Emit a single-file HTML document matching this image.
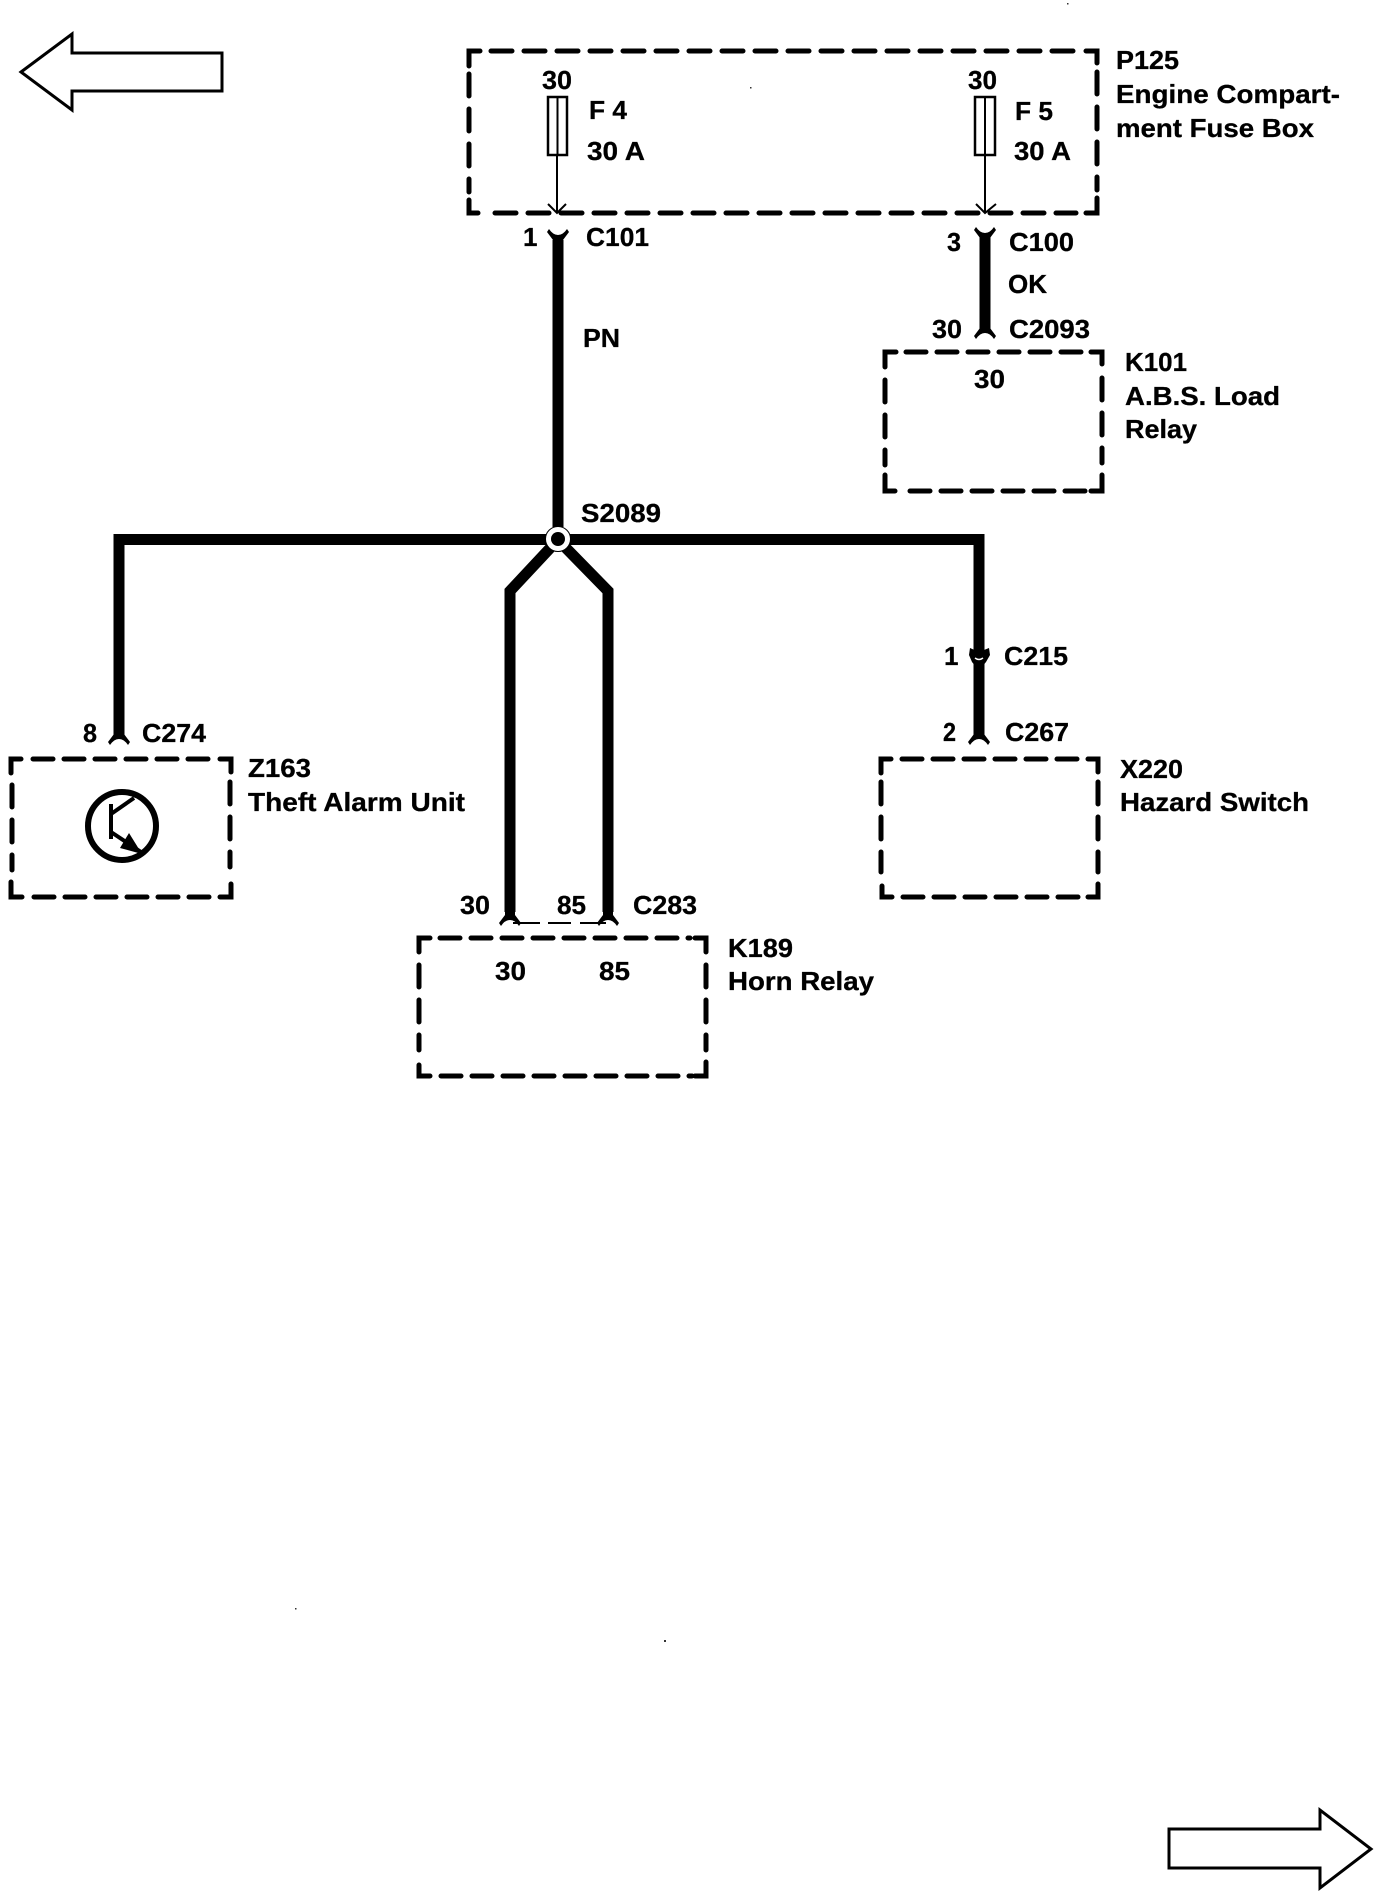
<!DOCTYPE html>
<html><head><meta charset="utf-8"><style>
html,body{margin:0;padding:0;background:#fff;width:1392px;height:1896px;overflow:hidden}
svg{display:block}
text{font-family:"Liberation Sans",Arial,sans-serif;font-weight:700;font-size:26px;fill:#000;stroke:#000;stroke-width:.3}
.d{fill:none;stroke:#000;stroke-width:5;stroke-linecap:round;stroke-linejoin:miter}
.w{fill:none;stroke:#000;stroke-width:11;stroke-linejoin:miter}
.t{fill:none;stroke:#000;stroke-width:2}
</style></head><body>
<svg width="1392" height="1896" viewBox="0 0 1392 1896" xmlns="http://www.w3.org/2000/svg">
<defs>
<path id="fk" d="M-5-14H5V-9L11-1 9 2Q5-4 0-4Q-5-4-9 2L-11-1-5-9Z" fill="#000"/>
</defs>
<rect width="1392" height="1896" fill="#fff"/>

<!-- page arrows -->
<path d="M21 72L72 34V53H222V91H72V110Z" fill="#fff" stroke="#000" stroke-width="3" stroke-linejoin="miter"/>
<path d="M1169 1829H1320V1810L1371 1849 1320 1888V1868H1169Z" fill="#fff" stroke="#000" stroke-width="3" stroke-linejoin="miter"/>

<!-- fuse box -->
<path class="d" d="M469 66V51H480M1086 51H1097V63M469 200V213H478M1086 213H1097V198"/>
<path class="d" style="stroke-dasharray:21 12" d="M491 51H1076"/>
<path class="d" style="stroke-dasharray:21 12" d="M495 213H1076"/>
<path class="d" style="stroke-dasharray:22 13" d="M469 74V192"/>
<path class="d" style="stroke-dasharray:22 13" d="M1097 72V190"/>

<!-- fuses -->
<rect x="548" y="97" width="19" height="58" fill="#fff" stroke="#000" stroke-width="2.500"/>
<path class="t" d="M557.500 97V155" stroke-width="1"/>
<rect x="975" y="97" width="20" height="58" fill="#fff" stroke="#000" stroke-width="2.500"/>
<path class="t" d="M985 97V155" stroke-width="1"/>
<path class="t" d="M557 155V213M548 204L557 213 566 204"/>
<path class="t" d="M985 155V213M976 204L985 213 996 204"/>

<!-- K101 -->
<path class="d" d="M885 367V352H896M1091 352H1102V364M885 475V491H895M1091 491H1102V475"/>
<path class="d" style="stroke-dasharray:20 11" d="M906 352H1085"/>
<path class="d" style="stroke-dasharray:20 11" d="M910 491H1085"/>
<path class="d" style="stroke-dasharray:22 13" d="M885 380V465"/>
<path class="d" style="stroke-dasharray:22 13" d="M1102 378V463"/>

<!-- Z163 -->
<path class="d" d="M11 773V759H21M220 759H231V772M11 882V897H22M220 897H231V884"/>
<path class="d" style="stroke-dasharray:20 11" d="M33 759H211"/>
<path class="d" style="stroke-dasharray:20 11" d="M34 897H211"/>
<path class="d" style="stroke-dasharray:22 13" d="M12 785V870"/>
<path class="d" style="stroke-dasharray:22 13" d="M230 782V867"/>

<!-- X220 -->
<path class="d" d="M881 773V759H891M1088 759H1098V772M882 886V897H892M1088 897H1098V884"/>
<path class="d" style="stroke-dasharray:20 11" d="M902 759H1080"/>
<path class="d" style="stroke-dasharray:20 11" d="M903 897H1080"/>
<path class="d" style="stroke-dasharray:22 13" d="M881 782V872"/>
<path class="d" style="stroke-dasharray:22 13" d="M1098 782V872"/>

<!-- K189 -->
<path class="d" d="M419 952V938H430M695 938H706V952M419 1065V1076H430M695 1076H706V1062"/>
<path class="d" style="stroke-dasharray:20 11" d="M440 938H690"/>
<path class="d" style="stroke-dasharray:20 11" d="M441 1076H692"/>
<path class="d" style="stroke-dasharray:22 13" d="M419 965V1050"/>
<path class="d" style="stroke-dasharray:22 13" d="M706 965V1050"/>

<!-- transistor -->
<ellipse cx="122" cy="826" rx="34" ry="34" fill="none" stroke="#000" stroke-width="6"/>
<path fill="none" stroke="#000" stroke-width="4" d="M111 804V839M111 814L134 798M111 832L141 852"/>
<path fill="#000" d="M142 854L120 848 129 833Z"/>

<!-- wires -->
<path class="w" d="M558 240V527"/>
<path class="w" d="M985 236V330"/>
<path class="w" d="M119 737V539.500H979V735"/>
<path class="w" d="M553 545L510 591V912"/>
<path class="w" d="M563 545L608 591V912"/>

<!-- junction -->
<circle cx="558" cy="539" r="12.500" fill="#fff" stroke="#000" stroke-width="1"/>
<circle cx="558" cy="539" r="7" fill="#000"/>

<!-- connectors -->
<use href="#fk" transform="translate(558 231) scale(1 -1)"/>
<use href="#fk" transform="translate(985 229) scale(1 -1)"/>
<use href="#fk" transform="translate(985 337)"/>
<use href="#fk" transform="translate(119 743)"/>
<use href="#fk" transform="translate(979 743)"/>
<use href="#fk" transform="translate(510 924)"/>
<use href="#fk" transform="translate(608 924)"/>
<path d="M513 923H540M548 923H571M580 923H606" fill="none" stroke="#000" stroke-width="2"/>
<!-- C215 inline -->
<path fill="#000" d="M970 648L979 652 989 648 990 655 986 662 982 667H976L972 662 969 655Z"/>
<path d="M975 658Q979 661 983 658" fill="none" stroke="#fff" stroke-width="1.500"/>

<!-- labels -->
<text x="542" y="89" textLength="30" lengthAdjust="spacingAndGlyphs">30</text>
<text x="968" y="89" textLength="29" lengthAdjust="spacingAndGlyphs">30</text>
<text x="589" y="119" textLength="38" lengthAdjust="spacingAndGlyphs">F 4</text>
<text x="1015" y="120" textLength="38" lengthAdjust="spacingAndGlyphs">F 5</text>
<text x="587" y="160" textLength="58" lengthAdjust="spacingAndGlyphs">30 A</text>
<text x="1014" y="160" textLength="57" lengthAdjust="spacingAndGlyphs">30 A</text>
<text x="1116" y="69" textLength="63" lengthAdjust="spacingAndGlyphs">P125</text>
<text x="1116" y="103" textLength="224" lengthAdjust="spacingAndGlyphs">Engine Compart-</text>
<text x="1116" y="137" textLength="198" lengthAdjust="spacingAndGlyphs">ment Fuse Box</text>
<text x="523" y="246">1</text>
<text x="586" y="246" textLength="63" lengthAdjust="spacingAndGlyphs">C101</text>
<text x="947" y="251" textLength="14" lengthAdjust="spacingAndGlyphs">3</text>
<text x="1009" y="251" textLength="65" lengthAdjust="spacingAndGlyphs">C100</text>
<text x="1008" y="293" textLength="39" lengthAdjust="spacingAndGlyphs">OK</text>
<text x="932" y="338" textLength="30" lengthAdjust="spacingAndGlyphs">30</text>
<text x="1009" y="338" textLength="81" lengthAdjust="spacingAndGlyphs">C2093</text>
<text x="583" y="347" textLength="37" lengthAdjust="spacingAndGlyphs">PN</text>
<text x="1125" y="371" textLength="62" lengthAdjust="spacingAndGlyphs">K101</text>
<text x="1125" y="405" textLength="155" lengthAdjust="spacingAndGlyphs">A.B.S. Load</text>
<text x="1125" y="438" textLength="72" lengthAdjust="spacingAndGlyphs">Relay</text>
<text x="974" y="388" textLength="31" lengthAdjust="spacingAndGlyphs">30</text>
<text x="581" y="522" textLength="80" lengthAdjust="spacingAndGlyphs">S2089</text>
<text x="83" y="742" textLength="14" lengthAdjust="spacingAndGlyphs">8</text>
<text x="142" y="742" textLength="64" lengthAdjust="spacingAndGlyphs">C274</text>
<text x="248" y="777" textLength="63" lengthAdjust="spacingAndGlyphs">Z163</text>
<text x="248" y="811" textLength="217" lengthAdjust="spacingAndGlyphs">Theft Alarm Unit</text>
<text x="460" y="914" textLength="30" lengthAdjust="spacingAndGlyphs">30</text>
<text x="557" y="914" textLength="29" lengthAdjust="spacingAndGlyphs">85</text>
<text x="633" y="914" textLength="64" lengthAdjust="spacingAndGlyphs">C283</text>
<text x="495" y="980" textLength="31" lengthAdjust="spacingAndGlyphs">30</text>
<text x="599" y="980" textLength="31" lengthAdjust="spacingAndGlyphs">85</text>
<text x="944" y="665">1</text>
<text x="1004" y="665" textLength="64" lengthAdjust="spacingAndGlyphs">C215</text>
<text x="943" y="741" textLength="13" lengthAdjust="spacingAndGlyphs">2</text>
<text x="1005" y="741" textLength="64" lengthAdjust="spacingAndGlyphs">C267</text>
<text x="1120" y="778" textLength="63" lengthAdjust="spacingAndGlyphs">X220</text>
<text x="1120" y="811" textLength="189" lengthAdjust="spacingAndGlyphs">Hazard Switch</text>
<text x="728" y="957" textLength="65" lengthAdjust="spacingAndGlyphs">K189</text>
<text x="728" y="990" textLength="146" lengthAdjust="spacingAndGlyphs">Horn Relay</text>

<!-- scan specks -->
<g fill="#333">
<rect x="1067" y="3" width="1.500" height="1.500"/>
<rect x="750" y="87" width="1.500" height="1.500"/>
<rect x="295" y="1608" width="1.500" height="1.500"/>
<rect x="664" y="1640" width="2" height="2"/>
</g>
</svg>
</body></html>
